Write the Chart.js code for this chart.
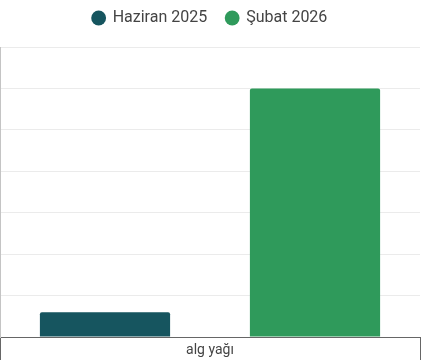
<!DOCTYPE html>
<html>
<head>
<meta charset="utf-8">
<script src="https://cdn.jsdelivr.net/npm/chart.js@4"></script>
<style>
html,body{margin:0;padding:0;background:#fff;}
#wrap{width:421px;height:360px;position:relative;}
</style>
</head>
<body>
<div id="wrap"><canvas id="c"></canvas></div>
<script>
const categories = ["alg yağı"];
const seriesNames = ["Haziran 2025", "Şubat 2026"];
const haziran2025 = [0.6];
const subat2026 = [6];
const seriesColors = ["#16555f", "#2f9a5b"];

const legendGap = {
  id: 'legendGap',
  beforeInit(chart) {
    const fit = chart.legend.fit;
    chart.legend.fit = function () {
      fit.bind(chart.legend)();
      this.height += 11;
    };
  }
};

new Chart(document.getElementById('c'), {
  type: 'bar',
  data: {
    labels: categories,
    datasets: [
      { label: seriesNames[0], data: haziran2025, backgroundColor: seriesColors[0], borderRadius: 2, borderSkipped: 'bottom' },
      { label: seriesNames[1], data: subat2026, backgroundColor: seriesColors[1], borderRadius: 2, borderSkipped: 'bottom' }
    ]
  },
  plugins: [legendGap],
  options: {
    responsive: true,
    maintainAspectRatio: false,
    animation: false,
    layout: { padding: { top: -9, right: 1, left: 0, bottom: 0 } },
    datasets: { bar: { categoryPercentage: 1.0, barPercentage: 0.62 } },
    plugins: {
      legend: {
        position: 'top',
        labels: {
          usePointStyle: true,
          pointStyle: 'circle',
          boxWidth: 12,
          boxHeight: 10.5,
          color: '#444',
          font: { family: 'Roboto', size: 16 },
          padding: 19
        }
      },
      tooltip: { enabled: false }
    },
    scales: {
      x: {
        offset: true,
        grid: { offset: true, drawOnChartArea: false, drawTicks: true, tickLength: 24, color: '#666' },
        border: { display: true, color: '#666' },
        ticks: { color: '#444', font: { family: 'Roboto', size: 14 }, padding: -19 },
        afterFit: (s) => { s.height = 23; }
      },
      y: {
        min: 0,
        max: 7,
        ticks: { display: false, stepSize: 1 },
        grid: { drawTicks: false, color: '#ebebeb' },
        border: { display: true, color: '#c4c4c4' }
      }
    }
  }
});
</script>
</body>
</html>
